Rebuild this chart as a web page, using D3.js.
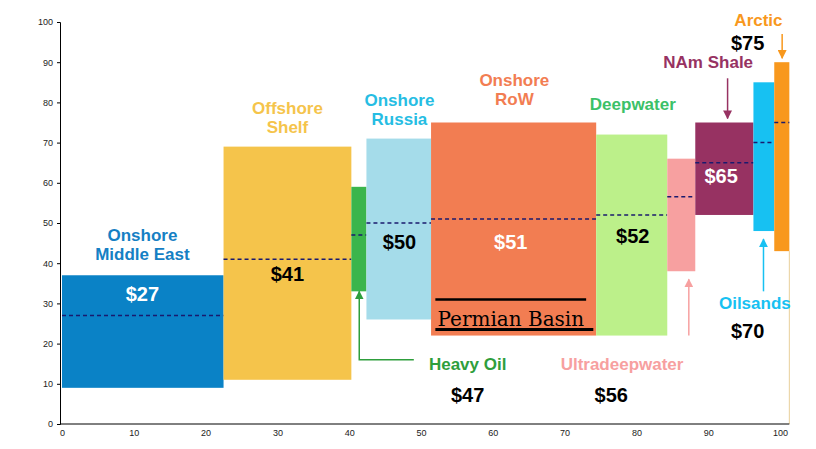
<html>
<head>
<script src="https://d3js.org/d3.v7.min.js"></script>
<style>
body { margin: 0; background: white; font-family: Arial, "Liberation Sans", sans-serif; }
</style>
</head>
<body>
<script>
// supply segments: cumulative start/end, cost range and median
var names   = ["Onshore Middle East", "Offshore Shelf", "Heavy Oil", "Onshore Russia", "Onshore RoW", "Deepwater", "Ultradeepwater", "NAm Shale", "Oilsands", "Arctic"];
var xStart  = [0, 22.5, 40.3, 42.4, 51.4, 74.4, 84.3, 88.2, 96.3, 99.2];
var xEnd    = [22.5, 40.3, 42.4, 51.4, 74.4, 84.3, 88.2, 96.3, 99.2, 101.3];
var yLow    = [9, 11, 33, 26, 22, 22, 38, 52, 48, 43];
var yHigh   = [37, 69, 59, 71, 75, 72, 66, 75, 85, 90];
var medians = [27, 41, 47, 50, 51, 52, 56.5, 65, 70, 75];
var colors  = ["#0a82c6", "#f5c44b", "#3bb54c", "#a5dcea", "#f27d52", "#bcf08a", "#f7a0a0", "#973262", "#17c1f2", "#f8981d"];
var xTicks  = [0, 10, 20, 30, 40, 50, 60, 70, 80, 90, 100];
var yTicks  = [0, 10, 20, 30, 40, 50, 60, 70, 80, 90, 100];

var width = 816, height = 449;
var x = d3.scaleLinear().domain([0, 100]).range([62, 780]);
var y = d3.scaleLinear().domain([0, 100]).range([424, 22]);

var svg = d3.select("body").append("svg").attr("width", width).attr("height", height);

// bars
var bars = svg.append("g");
names.forEach(function(n, i) {
  bars.append("rect")
    .attr("x", x(xStart[i])).attr("width", x(xEnd[i]) - x(xStart[i]))
    .attr("y", y(yHigh[i])).attr("height", y(yLow[i]) - y(yHigh[i]))
    .attr("fill", colors[i]);
  bars.append("line")
    .attr("x1", x(xStart[i])).attr("x2", x(xEnd[i]))
    .attr("y1", y(medians[i])).attr("y2", y(medians[i]))
    .attr("stroke", "#1a1a6e").attr("stroke-width", 1.5).attr("stroke-dasharray", "4,3");
});

// thin line at right edge
svg.append("line").attr("x1", x(101.3)).attr("x2", x(101.3)).attr("y1", y(43)).attr("y2", y(0))
  .attr("stroke", "#e8cf9a").attr("stroke-width", 1);

// axes
svg.append("g").attr("transform", "translate(0," + y(0) + ")")
  .call(d3.axisBottom(x).tickValues(xTicks).tickSize(0).tickPadding(6))
  .call(function(g) { g.select(".domain").attr("d", "M60,0H" + x(101.3)); })
  .selectAll("text").attr("font-size", 9).attr("fill", "#222");
svg.append("g").attr("transform", "translate(60,0)")
  .call(d3.axisLeft(y).tickValues(yTicks).tickSize(3).tickPadding(4))
  .selectAll("text").attr("font-size", 9).attr("fill", "#222");

// labels: [text lines, x, y (data), color, size]
var labels = [
  [["Onshore", "Middle East"], 11.2, 45.5, "#1580c4", 17],
  [["$27"], 11.2, 30.5, "white", 20],
  [["Offshore", "Shelf"], 31.4, 77, "#f5c44b", 17],
  [["$41"], 31.4, 35.5, "black", 20],
  [["Onshore", "Russia"], 47, 79, "#26bde3", 17],
  [["$50"], 47, 43.5, "black", 20],
  [["Onshore", "RoW"], 63, 84, "#f27d52", 17],
  [["$51"], 62.5, 43.5, "white", 20],
  [["Deepwater"], 79.5, 78, "#3cc168", 17],
  [["$52"], 79.5, 45, "black", 20],
  [["$65"], 91.8, 60, "white", 20],
  [["NAm Shale"], 90, 88.5, "#973262", 17],
  [["Arctic"], 97, 99, "#f8981d", 17],
  [["$75"], 95.5, 93, "black", 20],
  [["Oilsands"], 96.5, 28.5, "#17c1f2", 17],
  [["$70"], 95.5, 21.5, "black", 20],
  [["Ultradeepwater"], 78, 13.5, "#f7a0a0", 17],
  [["$56"], 76.5, 5.5, "black", 20],
  [["Heavy Oil"], 56.5, 13.5, "#2e9e3c", 17],
  [["$47"], 56.5, 5.5, "black", 20]
];
labels.forEach(function(l) {
  var t = svg.append("text").attr("x", x(l[1])).attr("y", y(l[2]))
    .attr("text-anchor", "middle").attr("font-weight", "bold")
    .attr("font-size", l[4]).attr("fill", l[3]);
  l[0].forEach(function(s, j) {
    t.append("tspan").attr("x", x(l[1])).attr("dy", j ? "1.1em" : 0).text(s);
  });
});

// Permian Basin box
svg.append("text").attr("x", x(52.3)).attr("y", y(24.5))
  .attr("font-family", "'DejaVu Serif', 'Liberation Serif', serif").attr("font-size", 20).attr("fill", "black")
  .text("Permian Basin");
svg.append("line").attr("x1", x(52)).attr("x2", x(73)).attr("y1", y(31)).attr("y2", y(31)).attr("stroke", "black").attr("stroke-width", 2.5);
svg.append("line").attr("x1", x(52)).attr("x2", x(74)).attr("y1", y(23.5)).attr("y2", y(23.5)).attr("stroke", "black").attr("stroke-width", 3);

// arrows
var defs = svg.append("defs");
function arrow(x1, y1, x2, y2, color, id, elbow) {
  defs.append("marker").attr("id", id).attr("viewBox", "0 0 10 10").attr("refX", 9).attr("refY", 5)
    .attr("markerWidth", 6).attr("markerHeight", 6).attr("orient", "auto")
    .append("path").attr("d", "M0,0L10,5L0,10z").attr("fill", color);
  var d = elbow ? "M" + x(x1) + "," + y(y1) + "H" + x(x2) + "V" + y(y2)
                : "M" + x(x1) + "," + y(y1) + "L" + x(x2) + "," + y(y2);
  svg.append("path").attr("d", d).attr("fill", "none").attr("stroke", color).attr("stroke-width", 1.5)
    .attr("marker-end", "url(#" + id + ")");
}
arrow(49, 16, 41.4, 33, "#2e9e3c", "a1", true);
arrow(87.3, 22, 87.3, 36, "#f7a0a0", "a2", false);
arrow(92.7, 86, 92.7, 76, "#973262", "a3", false);
arrow(97.7, 33, 97.7, 46, "#17c1f2", "a4", false);
arrow(100.3, 97, 100.3, 91, "#f8981d", "a5", false);
</script>
</body>
</html>
